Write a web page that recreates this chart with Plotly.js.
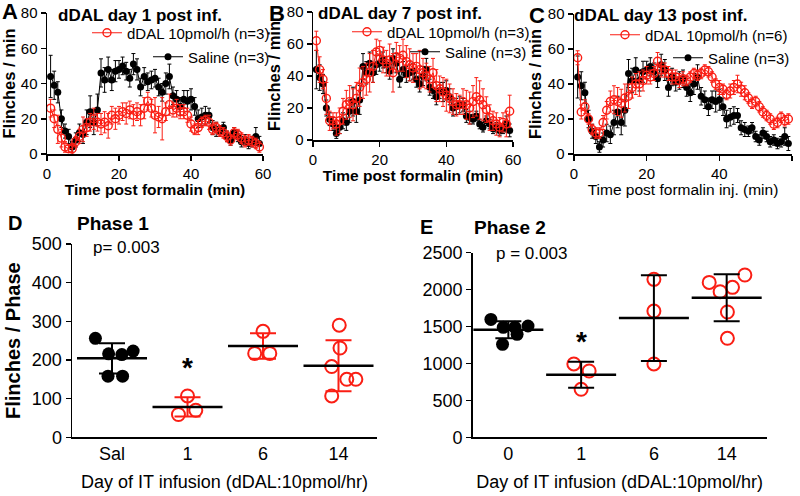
<!DOCTYPE html>
<html>
<head>
<meta charset="utf-8">
<script src="https://cdn.plot.ly/plotly-3.0.1.min.js"></script>
<style>html,body{margin:0;padding:0;background:#fff;}#chart{width:800px;height:496px;}</style>
</head>
<body>
<div id="chart"></div>
<script>
// ---------- DATA ----------
const minutes = [1,2,3,4,5,6,7,8,9,10,11,12,13,14,15,16,17,18,19,20,21,22,23,24,25,26,27,28,29,30,31,32,33,34,35,36,37,38,39,40,41,42,43,44,45,46,47,48,49,50,51,52,53,54,55,56,57,58,59];

const salineMean = [44,39,35,20,13,10,4,8,12,11, 18,24,18,25,46,42,48,42,47,48, 50,47,43,51,48,38,44,41,42,43, 38,35,40,44,33,31,27,31,30,31, 27,20,21,22,22,15,14,13,15,10, 8,12,10,7,8,6,7,10,6];
const salineSEM  = [12,8,6,5,4,4,3,4,5,5, 7,9,7,9,8,7,7,6,6,5, 5,5,5,6,6,5,5,5,5,5, 5,5,6,7,5,5,5,5,6,6, 5,5,5,5,4,4,4,3,3,3, 3,3,3,3,3,3,3,5,4];

const dDALday1Mean = [26,20,14,9,4,3,3,7,10,14, 15,18,20,18,17,18,16,22,20,22, 24,23,25,22,24,22,26,30,26,22, 21,20,24,28,25,26,24,24,22,17, 14,15,18,19,18,14,15,13,12,10, 8,12,11,9,7,8,7,6,4];
const dDALday1SEM  = [5,5,8,5,3,2,3,3,4,7, 5,5,6,5,6,6,7,5,6,5, 5,6,5,6,5,6,6,5,5,10, 6,12,5,6,4,5,4,4,4,4, 3,4,3,3,4,3,3,3,3,3, 3,3,3,3,3,3,3,3,3];

const dDALday7Mean = [62,44,38,26,12,12,10,12,18,22, 24,22,26,33,36,38,42,46,55,56, 50,48,50,42,52,51,53,49,47,45, 46,44,42,40,38,42,34,32,30,28, 26,24,22,22,24,22,20,24,27,25, 22,19,14,12,10,8,11,10,18];
const dDALday7SEM  = [6,8,6,10,6,5,7,8,8,9, 10,10,10,12,10,10,12,10,8,6, 8,8,10,12,9,8,10,10,10,9, 8,12,9,8,8,9,10,8,9,10, 9,8,7,6,8,9,10,10,12,12, 10,8,8,6,7,6,6,8,10];

const dDALday13Mean = [55,24,27,20,14,12,12,18,25,30, 31,30,29,32,33,38,40,40,42,45, 44,46,53,48,48,46,44,44,42,43, 42,44,46,45,46,48,47,44,40,38, 37,34,36,38,40,37,35,32,29,30, 27,24,22,20,17,18,21,19,20];
const dDALday13SEM  = [4,4,4,3,3,3,3,4,5,6, 8,8,8,8,7,6,6,7,6,5, 4,4,5,4,4,4,4,4,4,4, 3,3,3,3,3,3,3,3,3,4, 3,3,4,4,5,4,4,3,3,3, 3,3,3,3,3,3,3,3,3];

const phase1Labels = ['Sal','1','6','14'];
const phase2Labels = ['0','1','6','14'];

const phase1Sal   = [256,216,214,223,158,158];
const phase1Day1  = [107,59,70];
const phase1Day6  = [274,217,217];
const phase1Day14 = [290,231,183,150,150,107];

const phase2Day0  = [1597,1489,1489,1507,1394,1259];
const phase2Day1  = [993,898,650];
const phase2Day6  = [2139,1710,993];
const phase2Day14 = [2198,2098,2031,1972,1697,1341];

// horizontal scatter offsets of the dots (styling only)
const jit1 = [[-0.22,-0.045,0.13,0.28,-0.053,0.14],[0,-0.12,0.11],[0,-0.11,0.09],[0.01,0.02,-0.09,0.11,0.23,-0.09]];
const jit2 = [[-0.24,-0.07,0.09,0.27,0.12,-0.08],[-0.1,0.11,0],[0,0,0],[0.25,-0.24,0.08,-0.09,0.01,0.01]];

// ---------- HELPERS ----------
const RED = 'rgb(250,30,20)';
const FONT = 'Liberation Sans, Arial, sans-serif';
const W = 800, H = 496;
const px = v => v / W;
const py = v => 1 - v / H;

function mean(a){ return a.reduce((s,v)=>s+v,0)/a.length; }
function sd(a){ const m = mean(a); return Math.sqrt(a.reduce((s,v)=>s+(v-m)*(v-m),0)/(a.length-1)); }

const traces = [];
function timeCourse(y, err, color, open, xa, ya, legend, name){
  traces.push({
    type:'scatter', mode:'lines+markers', x: minutes, y: y, name: name,
    xaxis: xa, yaxis: ya, legend: legend, cliponaxis:false,
    line:{color: color, width:1},
    marker: open ? {symbol:'circle-open', size:8, color: color, line:{width:1.4, color: color}}
                 : {symbol:'circle', size:7, color: color},
    error_y:{type:'data', array: err, visible:true, color: color, thickness:1, width:2}
  });
}
timeCourse(salineMean, salineSEM, '#000', false, 'x', 'y', 'legend2', 'Saline (n=3)');
timeCourse(dDALday1Mean, dDALday1SEM, RED, true, 'x', 'y', 'legend', 'dDAL 10pmol/h (n=3)');
timeCourse(salineMean, salineSEM, '#000', false, 'x2', 'y2', 'legend4', 'Saline (n=3)');
timeCourse(dDALday7Mean, dDALday7SEM, RED, true, 'x2', 'y2', 'legend3', 'dDAL 10pmol/h (n=3)');
timeCourse(salineMean, salineSEM, '#000', false, 'x3', 'y3', 'legend6', 'Saline (n=3)');
timeCourse(dDALday13Mean, dDALday13SEM, RED, true, 'x3', 'y3', 'legend5', 'dDAL 10pmol/h (n=6)');

function dotGroup(vals, idx, jit, xa, ya, filled, errColor){
  const m = mean(vals), s = sd(vals);
  traces.push({
    type:'scatter', mode:'markers', showlegend:false, xaxis:xa, yaxis:ya, cliponaxis:false,
    x: vals.map((v,i)=> idx + jit[i]), y: vals,
    marker: filled ? {symbol:'circle', size:13, color:'#000'}
                   : {symbol:'circle-open', size:13, color:RED, line:{width:2, color:RED}}
  });
  traces.push({
    type:'scatter', mode:'markers', showlegend:false, xaxis:xa, yaxis:ya, cliponaxis:false,
    x:[idx], y:[m],
    marker:{symbol:'line-ew', size:50, color:'#000', line:{width:2.5, color:'#000'}},
    error_y:{type:'data', array:[s], visible:true, color: errColor, thickness:2, width:13}
  });
}
[phase1Sal, phase1Day1, phase1Day6, phase1Day14].forEach((g,i)=>
  dotGroup(g, i, jit1[i], 'x4', 'y4', i===0, i===0 ? '#000' : RED));
[phase2Day0, phase2Day1, phase2Day6, phase2Day14].forEach((g,i)=>
  dotGroup(g, i, jit2[i], 'x5', 'y5', i===0, '#000'));

// ---------- LAYOUT ----------
const axBase = {showline:true, linecolor:'#000', linewidth:1.5, ticks:'outside', ticklen:5, tickwidth:1.5,
  tickcolor:'#000', showgrid:false, zeroline:false, tickfont:{family:FONT, size:15, color:'#000'}};
function xTC(l, r, title, bold){
  return Object.assign({}, axBase, {domain:[px(l), px(r)], range:[0,60], tickvals:[0,20,40,60], fixedrange:true,
    title:{text: bold ? '<b>'+title+'</b>' : title, standoff:1, font:{family:FONT, size:15.5, color:'#000'}}});
}
function yTC(t, b, xa){
  return Object.assign({}, axBase, {domain:[py(b), py(t)], range:[0,80], tickvals:[0,20,40,60,80], anchor:xa,
    title:{text:'<b>Flinches / min</b>', standoff:2, font:{family:FONT, size:16.5, color:'#000'}}});
}

function legendAt(textX, cy){
  return {x: px(textX - 40), y: py(cy), xanchor:'left', yanchor:'middle', bgcolor:'rgba(0,0,0,0)',
    borderwidth:0, font:{family:FONT, size:15, color:'#000'}, itemwidth:30};
}

const layout = {
  width:W, height:H, margin:{l:0,r:0,t:0,b:0}, paper_bgcolor:'#fff', plot_bgcolor:'rgba(0,0,0,0)',
  font:{family:FONT, color:'#000'}, showlegend:true,
  xaxis: Object.assign(xTC(47, 263, 'Time post formalin (min)', true), {anchor:'y'}),
  yaxis: yTC(13, 154, 'x'),
  xaxis2: Object.assign(xTC(313, 513, 'Time post formalin (min)', true), {anchor:'y2'}),
  yaxis2: yTC(12, 140, 'x2'),
  xaxis3: Object.assign(xTC(574, 792, 'Time post formalin inj. (min)', false), {anchor:'y3'}),
  yaxis3: yTC(14, 154, 'x3'),
  xaxis4: Object.assign({}, axBase, {domain:[px(72), px(377)], range:[-0.53, 3.51], anchor:'y4', ticks:'',
    tickvals:[0,1,2,3], ticktext: phase1Labels, tickfont:{family:FONT, size:18, color:'#000'},
    title:{text:'Day of IT infusion (dDAL:10pmol/hr)', standoff:12, font:{family:FONT, size:18, color:'#000'}}}),
  yaxis4: Object.assign({}, axBase, {domain:[py(437.3), py(244)], range:[0,500], anchor:'x4',
    tickvals:[0,100,200,300,400,500], tickfont:{family:FONT, size:18, color:'#000'},
    title:{text:'<b>Flinches / Phase</b>', standoff:6, font:{family:FONT, size:20, color:'#000'}}}),
  xaxis5: Object.assign({}, axBase, {domain:[px(472.7), px(766.7)], range:[-0.49, 3.55], anchor:'y5', ticks:'',
    tickvals:[0,1,2,3], ticktext: phase2Labels, tickfont:{family:FONT, size:18, color:'#000'},
    title:{text:'Day of IT infusion (dDAL:10pmol/hr)', standoff:12, font:{family:FONT, size:18, color:'#000'}}}),
  yaxis5: Object.assign({}, axBase, {domain:[py(437.3), py(252.7)], range:[0,2500], anchor:'x5',
    tickvals:[0,500,1000,1500,2000,2500], tickfont:{family:FONT, size:18, color:'#000'}}),
  legend:  legendAt(127, 33),
  legend2: legendAt(188, 57),
  legend3: legendAt(387, 32),
  legend4: legendAt(445, 52),
  legend5: legendAt(645, 35),
  legend6: legendAt(708, 58),
  annotations: []
};

function ann(text, x, y, size, extra){
  layout.annotations.push(Object.assign({text:text, x:px(x), y:py(y), xref:'paper', yref:'paper',
    showarrow:false, xanchor:'center', yanchor:'middle', font:{family:FONT, size:size, color:'#000'}}, extra||{}));
}
ann('<b>A</b>', 10, 11, 22);
ann('<b>B</b>', 277, 13, 22);
ann('<b>C</b>', 537, 15, 22);
ann('<b>dDAL day 1 post inf.</b>', 140, 15, 17);
ann('<b>dDAL day 7 post inf.</b>', 400, 14, 17);
ann('<b>dDAL day 13 post inf.</b>', 661, 16, 17);
ann('<b>D</b>', 15, 223, 20);
ann('<b>Phase 1</b>', 113, 223, 19);
ann('<b>E</b>', 426, 227, 20);
ann('<b>Phase 2</b>', 510, 227, 19);
ann('p= 0.003', 126, 247, 17);
ann('p = 0.003', 531, 253, 17);
layout.annotations.push({text:'<b>*</b>', x:1, y:180, xref:'x4', yref:'y4', showarrow:false,
  font:{family:FONT, size:28, color:'#000'}});
layout.annotations.push({text:'<b>*</b>', x:1, y:1300, xref:'x5', yref:'y5', showarrow:false,
  font:{family:FONT, size:28, color:'#000'}});

Plotly.newPlot('chart', traces, layout, {staticPlot:true, displayModeBar:false});
</script>
</body>
</html>
